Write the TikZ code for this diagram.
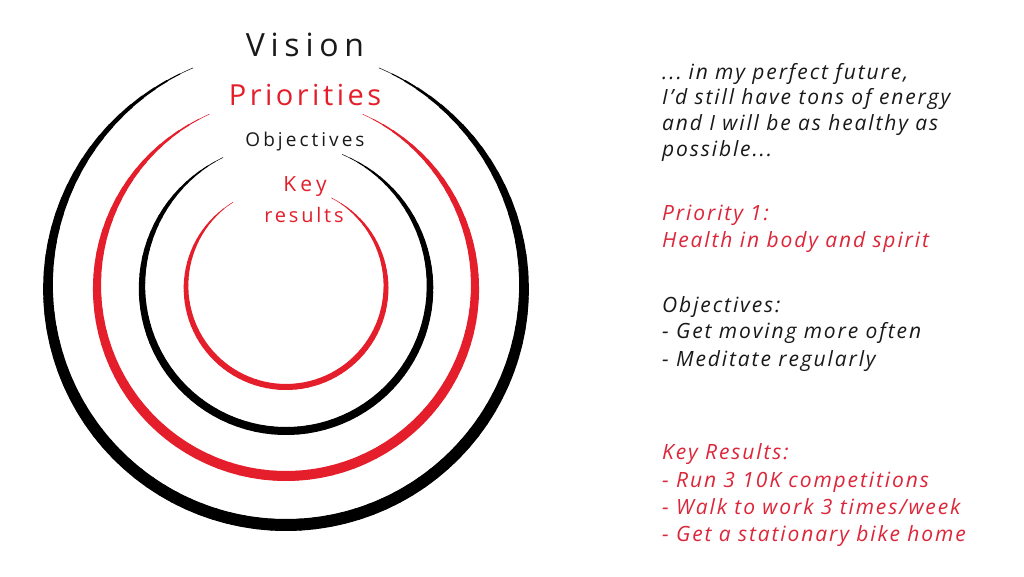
\documentclass[tikz,border=0pt]{standalone}
\usepackage{fontspec}
\setmainfont{Open Sans}
\newfontfamily\notefont[LetterSpace=9]{Open Sans}
\newfontfamily\visionfont[LetterSpace=18]{Open Sans}
\newfontfamily\prioFont[LetterSpace=12]{Open Sans}
\newfontfamily\objfont[LetterSpace=16]{Open Sans}
\newfontfamily\keyfont[LetterSpace=20]{Open Sans}
\newfontfamily\resfont[LetterSpace=14]{Open Sans}
\definecolor{ringred}{RGB}{228,30,42}
\definecolor{notered}{RGB}{220,38,58}
\definecolor{ink}{RGB}{25,25,25}
\tikzset{
  ringlabel/.style={inner sep=0pt, anchor=center},
  noteline/.style={inner sep=0pt, anchor=base west, font=\notefont\itshape\fontsize{21}{27}\selectfont},
}
\begin{document}
\begin{tikzpicture}[x=1pt, y=1pt]
  \useasboundingbox (0,0) rectangle (1024,576);
  \fill[white] (0,0) rectangle (1024,576);
  \coordinate (c) at (286,289);

  % four open rings, thick at the bottom and tapering to hairlines at the gap
  \foreach \r/\tmax/\gl/\gr/\col in {238/12/113/67/black, 189/10/114/66/ringred, 144/8/116/67/black, 100/6/122/63/ringred}{
    \pgfmathsetmacro\span{(\gr+360-\gl)/90}
    \foreach \i in {0,...,89}{
      \pgfmathsetmacro\aa{\gl + \span*\i}
      \pgfmathsetmacro\ab{\gl + \span*(\i+1)}
      \pgfmathsetmacro\u{abs(\i+0.5-45)/45}
      \pgfmathsetmacro\w{max(0.5, \tmax*(1-\u*\u*\u))}
      \draw[line width=\w pt, color=\col, line cap=round]
        (c) ++(\aa:\r) arc[start angle=\aa, end angle=\ab, radius=\r];
    }
  }

  % ring labels
  \node[ringlabel, text=ink, font=\visionfont\fontsize{32}{36}\selectfont] (vision) at (305,531) {Vision};
  \node[ringlabel, text=ringred, font=\prioFont\fontsize{29}{32}\selectfont] (prio) at (305,481) {Priorities};
  \node[ringlabel, text=ink, font=\objfont\fontsize{19}{22}\selectfont] (obj) at (305,434) {Objectives};
  \node[ringlabel, text=ringred, font=\keyfont\fontsize{21}{22}\selectfont] (key) at (305,389) {Key};
  \node[ringlabel, text=ringred, font=\resfont\fontsize{20}{22}\selectfont] (res) at (304,361) {results};

  % notes on the right
  \node[noteline, text=ink] (v1) at (662,496) {...\kern-3pt{} in my perfect future,};
  \node[noteline, text=ink] (v2) at (662,471) {I’d still have tons of energy};
  \node[noteline, text=ink] (v3) at (662,445) {and I will be as healthy as};
  \node[noteline, text=ink] (v4) at (662,419) {possible...};

  \node[noteline, text=notered] (p1) at (662,355) {Priority 1:};
  \node[noteline, text=notered] (p2) at (662,328) {Health in body and spirit};

  \node[noteline, text=ink] (o1) at (662,263) {Objectives:};
  \node[noteline, text=ink] (o2) at (662,237) {- Get moving more often};
  \node[noteline, text=ink] (o3) at (662,210) {- Meditate regularly};

  \node[noteline, text=notered] (k1) at (662,117) {Key Results:};
  \node[noteline, text=notered] (k2) at (662,89) {- Run 3 10K competitions};
  \node[noteline, text=notered] (k3) at (662,62) {- Walk to work 3 times/week};
  \node[noteline, text=notered] (k4) at (662,35) {- Get a stationary bike home};
\end{tikzpicture}
\end{document}
